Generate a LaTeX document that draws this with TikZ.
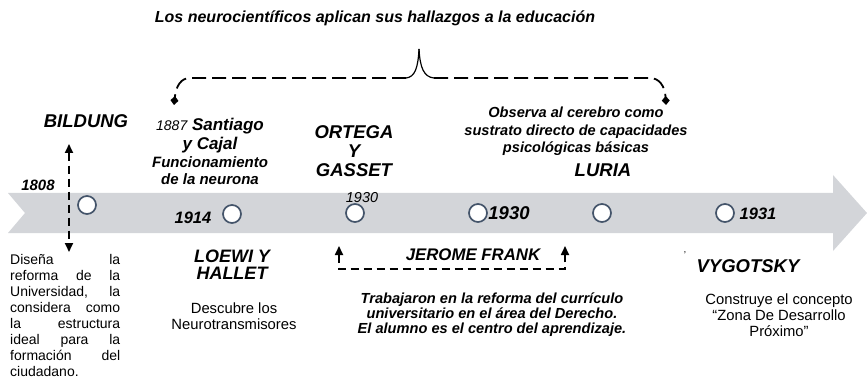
\documentclass[tikz,border=0pt]{standalone}
\usepackage{fontspec}
\setmainfont{Liberation Sans}
\usetikzlibrary{arrows.meta}
\definecolor{bandgray}{RGB}{211,213,217}
\definecolor{dotblue}{RGB}{68,84,106}
\begin{document}
\begin{tikzpicture}[x=1pt, y=-1pt,
    every node/.style={inner sep=0pt},
    titletext/.style={font=\bfseries\itshape\fontsize{16}{19}\selectfont},
    person/.style={font=\bfseries\itshape\fontsize{18.5}{19}\selectfont, align=center},
    yeartext/.style={font=\bfseries\itshape\fontsize{16.5}{18}\selectfont},
    notetext/.style={font=\bfseries\itshape\fontsize{14.6}{17.5}\selectfont, align=center},
    desctext/.style={font=\fontsize{14.8}{16}\selectfont, align=center},
    yeardot/.style={circle, draw=dotblue, fill=white, line width=1.7pt, minimum size=18pt},
    bracedash/.style={line width=1.8pt, dash pattern=on 14pt off 6pt},
    linkdash/.style={line width=1.7pt, dash pattern=on 8pt off 5pt},
    tri/.tip={Triangle[length=9pt, width=8pt]},
    kite/.tip={Turned Square[length=9pt, width=8pt]}]
    \useasboundingbox (0,0) rectangle (867,390);
    \fill[bandgray] (8,193) -- (833,193) -- (833,175) -- (867,213) -- (833,251) -- (833,233) -- (8,233) -- (25,213) -- cycle;
    \node[yeardot] (d1808) at (87,205) {};
    \node[yeardot] (d1914) at (232,214) {};
    \node[yeardot] (d1930a) at (355,213) {};
    \node[yeardot] (d1930b) at (478,213) {};
    \node[yeardot] (dluria) at (602,213) {};
    \node[yeardot] (d1931) at (725,213) {};
    \node[titletext, anchor=base] (title) at (375,23) {Los neurocientíficos aplican sus hallazgos a la educación};
    \node[person, anchor=base] (bildung) at (86,128) {BILDUNG};
    \node[yeartext, anchor=base, font=\bfseries\itshape\fontsize{15}{17}\selectfont] (y1808) at (38,191) {1808};
    \node[desctext, anchor=base west, align=left, font=\fontsize{14}{15.9}\selectfont] (bildungtext) at (10,376)
        {\makebox[110pt][s]{Diseña la}\\ \makebox[110pt][s]{reforma de la}\\ \makebox[110pt][s]{Universidad, la}\\
         \makebox[110pt][s]{considera como}\\ \makebox[110pt][s]{la estructura}\\ \makebox[110pt][s]{ideal para la}\\
         \makebox[110pt][s]{formación del}\\ ciudadano.};
    \node[person, anchor=base, font=\bfseries\itshape\fontsize{17}{19}\selectfont] (cajal) at (210,150)
        {{\mdseries\fontsize{14}{19}\selectfont 1887} Santiago\\ y Cajal};
    \node[notetext, anchor=base, font=\bfseries\itshape\fontsize{15}{17}\selectfont] (cajalnote) at (210,185) {Funcionamiento\\ de la neurona};
    \node[yeartext, anchor=base] (y1914) at (193,223) {1914};
    \node[person, anchor=base, font=\bfseries\itshape\fontsize{18}{17}\selectfont] (loewi) at (232,279) {LOEWI Y\\ HALLET};
    \node[desctext, anchor=base] (loewinote) at (234,329) {Descubre los\\ Neurotransmisores};
    \node[person, anchor=base] (ortega) at (354,177) {ORTEGA\\ Y\\ GASSET};
    \node[anchor=base, font=\itshape\fontsize{14.4}{16}\selectfont] (y1930a) at (362,203) {1930};
    \node[yeartext, anchor=base, font=\bfseries\itshape\fontsize{18.5}{20}\selectfont] (y1930b) at (509,219) {1930};
    \node[person, anchor=base, font=\bfseries\itshape\fontsize{16.8}{19}\selectfont] (jerome) at (473,260) {JEROME FRANK};
    \node[notetext, anchor=base, font=\bfseries\itshape\fontsize{14.6}{15}\selectfont] (jeromenote) at (492,333)
        {Trabajaron en la reforma del currículo\\ universitario en el área del Derecho.\\ El alumno es el centro del aprendizaje.};
    \node[notetext, anchor=base] (lurianote) at (576,153) {Observa al cerebro como\\ sustrato directo de capacidades\\ psicológicas básicas};
    \node[person, anchor=base] (luria) at (603,177) {LURIA};
    \node[yeartext, anchor=base] (y1931) at (758,219) {1931};
    \node[anchor=base, font=\fontsize{10}{12}\selectfont] (tick) at (685,258) {'};
    \node[person, anchor=base] (vygotsky) at (748,272) {VYGOTSKY};
    \node[desctext, anchor=base] (vygotskynote) at (779,336) {Construye el concepto\\ “Zona De Desarrollo\\ Próximo”};
    \coordinate (bup) at (69,144);
    \coordinate (bdown) at (69,252);
    \draw[linkdash, tri-tri] (bup) -- (bdown);
    \coordinate (jleft) at (339,246);
    \coordinate (jright) at (565,246);
    \draw[linkdash, tri-tri] (jleft) -- ++(0,23) -| (jright);
    \coordinate (braceleft) at (174,105);
    \coordinate (braceright) at (666,105);
    \coordinate (bracepeak) at (419,49);
    \draw[bracedash, -kite] (406,78) -- (190,78) .. controls (181,78) and (176,86) .. (braceleft);
    \draw[bracedash, -kite] (434,78) -- (650,78) .. controls (659,78) and (665,86) .. (braceright);
    \draw[line width=1.2pt] (406,78) .. controls (415,77) and (418,68) .. (bracepeak);
    \draw[line width=1.2pt] (bracepeak) .. controls (420,68) and (424,77) .. (434,78);
\end{tikzpicture}
\end{document}
